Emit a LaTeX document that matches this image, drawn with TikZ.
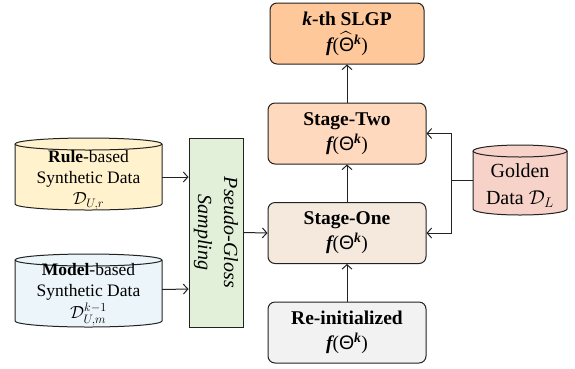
\RequirePackage{fix-cm}
\documentclass[tikz,border=0pt]{standalone}
\usepackage{amsmath}
\usepackage{fontspec}
\setmainfont{Liberation Serif}
\newfontfamily\thsans{Liberation Sans}
\usetikzlibrary{arrows.meta,calc}
\definecolor{cTop}{HTML}{FFC89B}
\definecolor{cTwo}{HTML}{FFD9BE}
\definecolor{cOne}{HTML}{F5E9DE}
\definecolor{cRe}{HTML}{F2F2F2}
\definecolor{cGold}{HTML}{F6D2C8}
\definecolor{cRule}{HTML}{FFF2CC}
\definecolor{cModel}{HTML}{ECF5FA}
\definecolor{cPG}{HTML}{E2F0D9}
\definecolor{cLine}{HTML}{222222}
\newcommand{\mycyl}[6]{%
  \pgfmathsetmacro\cylrx{(#3-#1)/2}%
  \filldraw[fill=#6, draw=cLine, line width=1pt] (#1,-#2-#5) -- (#1,-#4+#5)
    arc[start angle=180,end angle=360,x radius=\cylrx pt,y radius=#5 pt]
    -- (#3,-#2-#5)
    arc[start angle=0,end angle=180,x radius=\cylrx pt,y radius=#5 pt] -- cycle;
  \draw[draw=cLine, line width=1pt] (#1,-#2-#5)
    arc[start angle=180,end angle=360,x radius=\cylrx pt,y radius=#5 pt];
}
\newcommand{\fth}{{\bfseries\itshape f}({\thsans Θ}\textsuperscript{\bfseries\itshape k})}
\begin{document}
\begin{tikzpicture}[x=1pt,y=1pt,
  stagebox/.style={draw=cLine, line width=1pt, rounded corners=7pt, align=center,
    minimum width=158pt, minimum height=61pt, font=\fontsize{19.5}{25}\selectfont, inner sep=0pt},
  anchorbox/.style={inner sep=0pt, outer sep=0pt},
  cyltext/.style={align=center, font=\fontsize{17.5}{21}\selectfont, inner sep=0pt},
  conn/.style={draw=cLine, line width=1pt, -{Straight Barb[length=4.5pt,width=10pt]}},
  plain/.style={draw=cLine, line width=1pt}]
\useasboundingbox (0,0) rectangle (575,-368);

% main column
\node[stagebox, fill=cTop, minimum width=154pt] (top) at (347,-33.5)
  {\textbf{\textit{k}-th SLGP}\\[1pt]{\bfseries\itshape f}($\widehat{\text{\thsans Θ}}$\textsuperscript{\bfseries\itshape k})};
\node[stagebox, fill=cTwo] (s2) at (347,-133.5) {\textbf{Stage-Two}\\\fth};
\node[stagebox, fill=cOne] (s1) at (347,-233) {\textbf{Stage-One}\\\fth};
\node[stagebox, fill=cRe] (re) at (347,-332.5) {\textbf{Re-initialized}\\\fth};

% pseudo-gloss sampling
\node[draw=cLine, line width=1pt, fill=cPG, minimum width=54pt, minimum height=189pt, inner sep=0pt] (pg) at (216,-232.5) {};
\node[rotate=-90, align=center, font=\fontsize{20}{26}\selectfont\itshape] (pgtxt) at (pg.center) {Pseudo-Gloss\\Sampling};

% cylinders
\mycyl{15}{138}{162}{210}{6}{cRule}
\node[anchorbox, minimum width=147pt, minimum height=72pt] (rule) at (88.5,-174) {};
\node[cyltext] (ruletxt) at (88.5,-180) {\textbf{Rule}-based\\Synthetic Data\\$\mathcal{D}_{U,r}$};

\mycyl{15}{254}{162}{327}{6}{cModel}
\node[anchorbox, minimum width=147pt, minimum height=73pt] (model) at (88.5,-290.5) {};
\node[cyltext] (modeltxt) at (88.5,-295) {\textbf{Model}-based\\Synthetic Data\\[1pt]$\mathcal{D}_{U,m}^{k-1}$};

\mycyl{473}{145}{567}{215}{6}{cGold}
\node[anchorbox, minimum width=94pt, minimum height=70pt] (gold) at (520,-180) {};
\node[cyltext, font=\fontsize{20}{27}\selectfont] (goldtxt) at (520,-186) {Golden\\Data $\mathcal{D}_L$};

% connectors
\draw[conn] (re) -- (s1);
\draw[conn] (s1) -- (s2);
\draw[conn] (s2) -- (top);
\draw[conn] ($(rule.east)+(0,-3)$) -- ($(pg.west)+(0,55.5)$);
\draw[conn] ($(model.east)+(0,1)$) -- ($(pg.west)+(0,-56.5)$);
\draw[conn] (pg.east) -- (s1.west);
\draw[plain] (gold.west) -- ++(-22,0) coordinate (j);
\draw[conn] (j) |- (s2.east);
\draw[conn] (j) |- (s1.east);
\end{tikzpicture}
\end{document}
